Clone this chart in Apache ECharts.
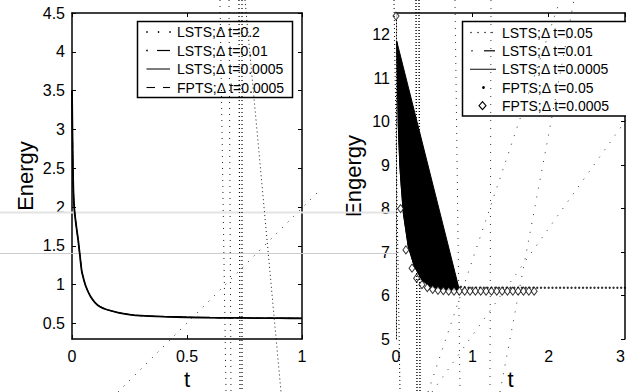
<!DOCTYPE html>
<html>
<head>
<meta charset="utf-8">
<script src="https://cdn.jsdelivr.net/npm/echarts@6/dist/echarts.min.js"></script>
<style>
html,body{margin:0;padding:0;background:#fff;}
#chart{width:626px;height:392px;}
</style>
</head>
<body>
<div id="chart"></div>
<script>
// ---------- data ----------
// Left panel: energy decay (all four runs coincide)
const leftT = [0, 0.002, 0.004, 0.006, 0.01, 0.017, 0.027, 0.035, 0.042, 0.05, 0.06, 0.08, 0.1, 0.12, 0.15, 0.2, 0.25, 0.3, 0.4, 0.5, 0.6, 0.7, 0.8, 0.9, 1.0];
const leftE = [3.5, 2.95, 2.5, 2.22, 1.98, 1.79, 1.57, 1.36, 1.18, 1.08, 0.98, 0.85, 0.77, 0.72, 0.68, 0.64, 0.615, 0.6, 0.588, 0.58, 0.575, 0.572, 0.57, 0.568, 0.567];
const leftNames = ['LSTS;\u0394 t=0.2', 'LSTS;\u0394 t=0.01', 'LSTS;\u0394 t=0.0005', 'FPTS;\u0394 t=0.0005'];
const leftXTicks = [0, 0.5, 1];
const leftYTicks = [0.5, 1, 1.5, 2, 2.5, 3, 3.5, 4, 4.5];

// Right panel
const rightNames = ['LSTS;\u0394 t=0.05', 'LSTS;\u0394 t=0.01', 'LSTS;\u0394 t=0.0005', 'FPTS;\u0394 t=0.05', 'FPTS;\u0394 t=0.0005'];
// oscillating band (filled black): lower envelope and upper envelope
const bandLowT = [0.01, 0.03, 0.05, 0.065, 0.096, 0.16, 0.24, 0.34, 0.45, 0.66, 0.82];
const bandLowE = [11.85, 9.9, 9.0, 8.6, 7.9, 7.13, 6.67, 6.36, 6.2, 6.13, 6.13];
const bandHighT = [0.82, 0.01];
const bandHighE = [6.2, 11.85];
// FPTS dt=0.05 dots
const dotT = [0.8, 0.85, 0.9, 0.95, 1.0, 1.05, 1.1, 1.15, 1.2, 1.25, 1.3, 1.35, 1.4, 1.45, 1.5, 1.55, 1.6, 1.65, 1.7, 1.75, 1.8, 1.85, 1.9, 1.95, 2.0, 2.05, 2.1, 2.15, 2.2, 2.25, 2.3, 2.35, 2.4, 2.45, 2.5, 2.55, 2.6, 2.65, 2.7, 2.75, 2.8, 2.85, 2.9, 2.95, 3.0];
const dotE = [6.22, 6.2, 6.19, 6.18, 6.18, 6.18, 6.18, 6.18, 6.18, 6.18, 6.18, 6.18, 6.18, 6.18, 6.18, 6.18, 6.18, 6.18, 6.18, 6.18, 6.18, 6.18, 6.18, 6.18, 6.18, 6.18, 6.18, 6.18, 6.18, 6.18, 6.18, 6.18, 6.18, 6.18, 6.18, 6.18, 6.18, 6.18, 6.18, 6.18, 6.18, 6.18, 6.18, 6.18, 6.18];
// FPTS dt=0.0005 diamonds
const diaT = [0.0, 0.06, 0.13, 0.21, 0.27, 0.34, 0.41, 0.48, 0.55, 0.62, 0.69, 0.76, 0.83, 0.9, 0.97, 1.04, 1.11, 1.18, 1.25, 1.32, 1.39, 1.46, 1.53, 1.6, 1.67, 1.74, 1.81];
const diaE = [12.43, 8.0, 7.05, 6.63, 6.4, 6.25, 6.18, 6.14, 6.12, 6.11, 6.1, 6.1, 6.1, 6.1, 6.1, 6.1, 6.1, 6.1, 6.1, 6.1, 6.1, 6.1, 6.1, 6.1, 6.1, 6.1, 6.1];
const rightXTicks = [0, 1, 2, 3];
const rightYTicks = [5, 6, 7, 8, 9, 10, 11, 12];

const zip = (a, b) => a.map((v, i) => [v, b[i]]);

// ---------- styles ----------
const FONT = '"Liberation Sans", Arial, Helvetica, sans-serif';
const BLK = '#000';

function axisCommon(extra) {
  return Object.assign({
    type: 'value',
    splitLine: { show: false },
    axisLine: { show: true, onZero: false, lineStyle: { color: BLK, width: 1.5 } },
    axisTick: { show: true, inside: true, length: 4, lineStyle: { color: BLK, width: 1 } },
    axisLabel: { color: BLK, fontSize: 16, fontFamily: FONT },
    nameTextStyle: { color: BLK, fontSize: 22, fontFamily: FONT }
  }, extra);
}

const chart = echarts.init(document.getElementById('chart'), null, { renderer: 'svg' });

// legend graphics
function legendGraphics() {
  const g = [];
  const txt = (x, y, s) => ({ type: 'text', z: 50, x: x, y: y, style: { text: s, font: '14px ' + FONT, fill: BLK, textVerticalAlign: 'middle', verticalAlign: 'middle' } });
  const ln = (x1, x2, y, st) => ({ type: 'line', z: 50, shape: { x1: x1, y1: y, x2: x2, y2: y }, style: Object.assign({ stroke: BLK, lineWidth: 1 }, st) });
  const dot = (x, y, r) => ({ type: 'circle', z: 50, shape: { cx: x, cy: y, r: r }, style: { fill: BLK } });
  // left legend
  g.push({ type: 'rect', z: 49, shape: { x: 137.5, y: 21.5, width: 155, height: 76 }, style: { fill: '#fff', stroke: BLK, lineWidth: 1.5 } });
  const ly = [32, 50.5, 69, 87.5];
  g.push(dot(147, ly[0], 0.8), dot(158.5, ly[0], 0.8), dot(170, ly[0], 0.8));
  g.push(dot(147, ly[1], 0.8), ln(157, 170, ly[1], { lineWidth: 1.2 }));
  g.push(ln(146.5, 170, ly[2], { stroke: '#444', lineWidth: 1.4 }));
  g.push(ln(146.5, 155, ly[3], { lineWidth: 1.1 }), ln(163, 170, ly[3], { lineWidth: 1.1 }));
  leftNames.forEach((n, i) => g.push(txt(177, ly[i], n)));
  // right legend
  g.push({ type: 'rect', z: 49, shape: { x: 462.5, y: 21.5, width: 170, height: 94.5 }, style: { fill: '#fff', stroke: BLK, lineWidth: 1.5 } });
  const ry = [32.5, 50.8, 69.3, 87.5, 105.7];
  [471, 478, 485, 492].forEach(x => g.push(dot(x, ry[0], 0.7)));
  g.push(dot(472, ry[1], 0.7), ln(484, 495, ry[1], { lineWidth: 1.2 }));
  g.push(ln(470, 496, ry[2], { stroke: '#333', lineWidth: 1.2 }));
  g.push(dot(483.5, ry[3], 1.4));
  g.push({ type: 'polygon', z: 50, shape: { points: [[482.5, ry[4] - 4], [486, ry[4]], [482.5, ry[4] + 4], [479, ry[4]]] }, style: { fill: '#fff', stroke: BLK, lineWidth: 1.1 } });
  rightNames.forEach((n, i) => g.push(txt(502, ry[i], n)));
  return g;
}

// faint scan artefacts of the reproduced figure
function artefacts() {
  const g = [];
  const dl = (x1, y1, x2, y2, w, dash, c) => ({ type: 'line', z: 60, silent: true, shape: { x1: x1, y1: y1, x2: x2, y2: y2 }, style: { stroke: c || '#000', lineWidth: w || 0.9, lineDash: dash || [1, 4] } });
  g.push({ type: 'line', z: 1, shape: { x1: 0, y1: 212.5, x2: 396, y2: 212.5 }, style: { stroke: '#e4e4e4', lineWidth: 2 } });
  g.push({ type: 'line', z: 1, shape: { x1: 0, y1: 253.5, x2: 396, y2: 253.5 }, style: { stroke: '#cccccc', lineWidth: 1 } });
  // left panel vertical streaks
  g.push(dl(220, 0, 226, 392, 0.9, [1, 5]));
  g.push(dl(229, 0, 231, 392, 0.9, [1, 5]));
  g.push(dl(239, 0, 240, 392, 1.2, [1, 3]));
  g.push(dl(242, 0, 242, 392, 1.2, [1, 3]));
  g.push(dl(245, 0, 281, 392, 0.9, [1, 3]));
  g.push(dl(118, 392, 320, 190, 0.9, [1, 7]));
  // right panel streaks
  g.push(dl(394, 0, 400, 392, 1, [1, 3]));
  g.push(dl(416, 0, 417, 392, 1.4, [1, 2]));
  g.push(dl(419, 0, 420, 392, 1.4, [1, 2]));
  g.push(dl(455, 0, 460, 392, 0.8, [1, 6]));
  g.push(dl(491, 0, 490, 392, 0.8, [1, 7]));
  g.push(dl(428, 392, 560, 0, 0.8, [1, 8]));
  g.push(dl(432, 392, 626, 120, 0.8, [1, 8]));
  g.push(dl(500, 392, 574, 0, 0.8, [1, 8]));
  return g;
}

const option = {
  animation: false,
  backgroundColor: '#fff',
  grid: [
    { left: 72, top: 13, width: 230, height: 326, show: false, containLabel: false, outerBoundsMode: 'none' },
    { left: 396, top: 13, width: 229, height: 326, show: false, containLabel: false, outerBoundsMode: 'none' }
  ],
  xAxis: [
    axisCommon({ gridIndex: 0, position: 'bottom', min: 0, max: 1, interval: 0.5,
      axisLabel: { color: BLK, fontSize: 16, fontFamily: FONT, margin: 9, customValues: leftXTicks },
      axisTick: { show: true, inside: true, length: 4, customValues: leftXTicks, lineStyle: { color: BLK } },
      name: 't', nameLocation: 'middle', nameGap: 28 }),
    axisCommon({ gridIndex: 0, position: 'top', min: 0, max: 1, interval: 0.5, axisLabel: { show: false } }),
    axisCommon({ gridIndex: 1, position: 'bottom', min: 0, max: 3, interval: 1,
      axisLine: { show: false },
      axisTick: { show: false },
      axisLabel: { color: BLK, fontSize: 16, fontFamily: FONT, margin: 9, customValues: rightXTicks, alignMaxLabel: 'right' },
      name: 't', nameLocation: 'middle', nameGap: 28 }),
    axisCommon({ gridIndex: 1, position: 'top', min: 0, max: 3, interval: 1, axisLabel: { show: false } })
  ],
  yAxis: [
    axisCommon({ gridIndex: 0, position: 'left', min: 0.3, max: 4.5,
      axisLabel: { color: BLK, fontSize: 16, fontFamily: FONT, margin: 7, customValues: leftYTicks },
      axisTick: { show: true, inside: true, length: 4, customValues: leftYTicks, lineStyle: { color: BLK } },
      name: 'Energy', nameLocation: 'middle', nameGap: 36 }),
    axisCommon({ gridIndex: 0, position: 'right', min: 0.3, max: 4.5, axisLabel: { show: false },
      axisTick: { show: true, inside: true, length: 4, customValues: leftYTicks, lineStyle: { color: BLK } } }),
    axisCommon({ gridIndex: 1, position: 'left', min: 5, max: 12.5,
      axisLine: { show: true, onZero: false, lineStyle: { color: BLK, width: 1, type: [1, 2] } },
      axisTick: { show: false },
      axisLabel: { color: BLK, fontSize: 16, fontFamily: FONT, margin: 6, customValues: rightYTicks },
      name: 'Engergy', nameLocation: 'middle', nameGap: 32 }),
    axisCommon({ gridIndex: 1, position: 'right', min: 5, max: 12.5, axisLabel: { show: false },
      axisTick: { show: true, inside: true, length: 4, customValues: rightYTicks, lineStyle: { color: BLK } } })
  ],
  series: [
    { name: leftNames[0], type: 'line', xAxisIndex: 0, yAxisIndex: 0, data: zip(leftT, leftE), showSymbol: false, smooth: 0.2,
      lineStyle: { color: BLK, width: 1, type: [1, 3] }, z: 3 },
    { name: leftNames[1], type: 'line', xAxisIndex: 0, yAxisIndex: 0, data: zip(leftT, leftE), showSymbol: false, smooth: 0.2,
      lineStyle: { color: BLK, width: 1, type: [6, 3, 1, 3] }, z: 3 },
    { name: leftNames[3], type: 'line', xAxisIndex: 0, yAxisIndex: 0, data: zip(leftT, leftE), showSymbol: false, smooth: 0.2,
      lineStyle: { color: BLK, width: 1, type: [6, 4] }, z: 3 },
    { name: leftNames[2], type: 'line', xAxisIndex: 0, yAxisIndex: 0, data: zip(leftT, leftE), showSymbol: false, smooth: 0.2,
      lineStyle: { color: BLK, width: 1.8 }, z: 4 },
    { name: rightNames[1], type: 'custom', xAxisIndex: 2, yAxisIndex: 2, data: [[bandLowT[0], bandLowE[0]]], z: 3,
      renderItem: function (params, api) {
        const pts = zip(bandLowT, bandLowE).concat(zip(bandHighT, bandHighE)).map(p => api.coord(p));
        return { type: 'polygon', shape: { points: pts, smooth: 0 }, style: { fill: BLK, stroke: BLK, lineWidth: 1 } };
      } },
    { name: rightNames[2], type: 'line', xAxisIndex: 2, yAxisIndex: 2, data: zip(bandLowT, bandLowE), showSymbol: false,
      lineStyle: { color: BLK, width: 1 }, z: 3 },
    { name: rightNames[3], type: 'scatter', xAxisIndex: 2, yAxisIndex: 2, data: zip(dotT, dotE), symbol: 'circle', symbolSize: 2.4,
      itemStyle: { color: BLK }, z: 4 },
    { name: rightNames[4], type: 'scatter', xAxisIndex: 2, yAxisIndex: 2, data: zip(diaT, diaE), symbol: 'diamond', symbolSize: [6, 8],
      itemStyle: { color: '#fff', borderColor: BLK, borderWidth: 1 }, z: 5 }
  ],
  graphic: artefacts().concat(legendGraphics())
};
chart.setOption(option);
</script>
</body>
</html>
